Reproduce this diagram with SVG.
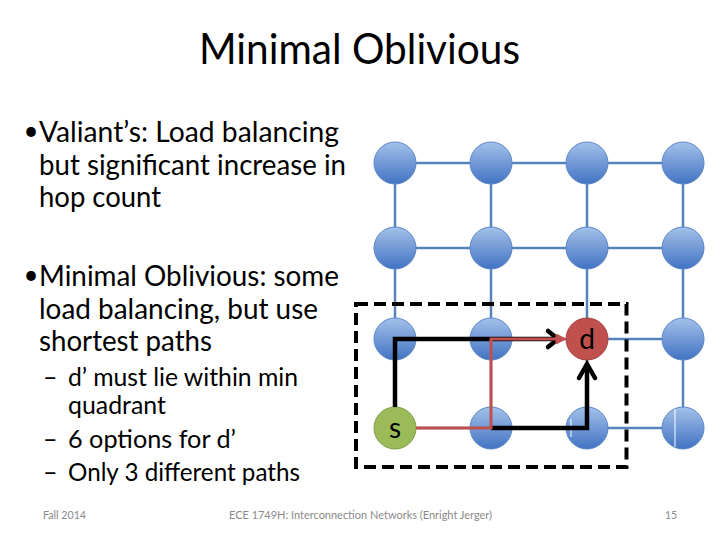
<svg xmlns="http://www.w3.org/2000/svg" width="720" height="540" viewBox="0 0 720 540">
<defs>
<linearGradient id="blue" x1="0" y1="0" x2="0" y2="1">
<stop offset="0" stop-color="#a3c1ea"/>
<stop offset="1" stop-color="#4273c2"/>
</linearGradient>
<style>
text{font-family:Lato,"Liberation Sans",sans-serif;fill:#000}
.title{font-size:43px}
.b1{font-size:29.5px}
.bul{font-size:26px;text-anchor:middle}
.b2{font-size:25px}
.foot{font-size:12px;fill:#8a8a8a}
.grid line{stroke:#5783bb;stroke-width:2.5}
.node{fill:url(#blue);stroke:#5a88c8;stroke-width:1}
.lbl{font-size:28px;text-anchor:middle}
.blk{fill:none;stroke:#000;stroke-width:4.5;stroke-linejoin:miter}
.red{fill:none;stroke:#c0504d;stroke-width:3}
</style>
</defs>
<rect width="720" height="540" fill="#fff"/>
<text class="title" x="199" y="64" textLength="321" lengthAdjust="spacingAndGlyphs">Minimal Oblivious</text>

<g id="text-left">
<text class="bul" x="31" y="140">•</text>
<text class="b1" x="39" y="142" textLength="300" lengthAdjust="spacingAndGlyphs">Valiant’s: Load balancing</text>
<text class="b1" x="39" y="174.5" textLength="307" lengthAdjust="spacingAndGlyphs">but significant increase in</text>
<text class="b1" x="39" y="207" textLength="122" lengthAdjust="spacingAndGlyphs">hop count</text>
<text class="bul" x="31" y="284">•</text>
<text class="b1" x="39" y="286" textLength="300" lengthAdjust="spacingAndGlyphs">Minimal Oblivious: some</text>
<text class="b1" x="39" y="318.5" textLength="279" lengthAdjust="spacingAndGlyphs">load balancing, but use</text>
<text class="b1" x="39" y="351" textLength="173" lengthAdjust="spacingAndGlyphs">shortest paths</text>
<text class="b2" x="43" y="386">–</text>
<text class="b2" x="68" y="386" textLength="230" lengthAdjust="spacingAndGlyphs">d’ must lie within min</text>
<text class="b2" x="68" y="414" textLength="98" lengthAdjust="spacingAndGlyphs">quadrant</text>
<text class="b2" x="43" y="448">–</text>
<text class="b2" x="68" y="448" textLength="168" lengthAdjust="spacingAndGlyphs">6 options for d’</text>
<text class="b2" x="43" y="481">–</text>
<text class="b2" x="68" y="481" textLength="232" lengthAdjust="spacingAndGlyphs">Only 3 different paths</text>
</g>

<g id="footer">
<text class="foot" x="43" y="519" textLength="43" lengthAdjust="spacingAndGlyphs">Fall 2014</text>
<text class="foot" x="229" y="519" textLength="263" lengthAdjust="spacingAndGlyphs">ECE 1749H: Interconnection Networks (Enright Jerger)</text>
<text class="foot" x="665" y="519" textLength="12" lengthAdjust="spacingAndGlyphs">15</text>
</g>

<g id="grid-links" class="grid">
<line x1="395" y1="163" x2="683" y2="163"/>
<line x1="395" y1="248" x2="683" y2="248"/>
<line x1="395" y1="339" x2="683" y2="339"/>
<line x1="395" y1="428" x2="683" y2="428"/>
<line x1="395" y1="163" x2="395" y2="428"/>
<line x1="491" y1="163" x2="491" y2="428"/>
<line x1="587" y1="163" x2="587" y2="428"/>
<line x1="683" y1="163" x2="683" y2="428"/>
</g>

<g id="nodes">
<g id="n00"><circle class="node" cx="395" cy="163" r="21"/></g>
<g id="n10"><circle class="node" cx="491" cy="163" r="21"/></g>
<g id="n20"><circle class="node" cx="587" cy="163" r="21"/></g>
<g id="n30"><circle class="node" cx="683" cy="163" r="21"/></g>
<g id="n01"><circle class="node" cx="395" cy="248" r="21"/></g>
<g id="n11"><circle class="node" cx="491" cy="248" r="21"/></g>
<g id="n21"><circle class="node" cx="587" cy="248" r="21"/></g>
<g id="n31"><circle class="node" cx="683" cy="248" r="21"/></g>
<g id="n02"><circle class="node" cx="395" cy="339" r="21"/></g>
<g id="n12"><circle class="node" cx="491" cy="339" r="21"/></g>
<g id="d"><circle cx="587" cy="339" r="21" fill="#c0504d" stroke="#a3403d" stroke-width="1"/><text class="lbl" x="587" y="349">d</text></g>
<g id="n32"><circle class="node" cx="683" cy="339" r="21"/></g>
<g id="s"><circle cx="395" cy="428" r="21" fill="#9bbb59" stroke="#80a044" stroke-width="1"/><text class="lbl" x="395" y="438">s</text></g>
<g id="n13"><circle class="node" cx="491" cy="428" r="21"/></g>
<g id="n23"><circle class="node" cx="587" cy="428" r="21"/><line x1="571" y1="419" x2="571" y2="437" stroke="#fff" stroke-width="1"/></g>
<g id="n33"><circle class="node" cx="683" cy="428" r="21"/><line x1="675" y1="409" x2="675" y2="447" stroke="#fff" stroke-width="1"/></g>
</g>

<g id="quadrant">
<rect x="356" y="304" width="270.5" height="163" fill="none" stroke="#000" stroke-width="4" stroke-dasharray="12 6"/>
</g>

<g id="connectors">
<path class="blk" d="M395,407 V339 H556"/>
<path class="blk" d="M548,331 L558,339 L548,347" stroke-linecap="round"/>
<path class="blk" d="M491,428 H587 V364"/>
<path class="blk" d="M579,378 L587,364 L595,378" stroke-linecap="round"/>
<path class="red" d="M416,428 H491 V339 H562"/>
<path d="M556,334 L566,339 L556,344 Z" fill="#c0504d" stroke="#c0504d" stroke-width="1"/>
</g>
</svg>
